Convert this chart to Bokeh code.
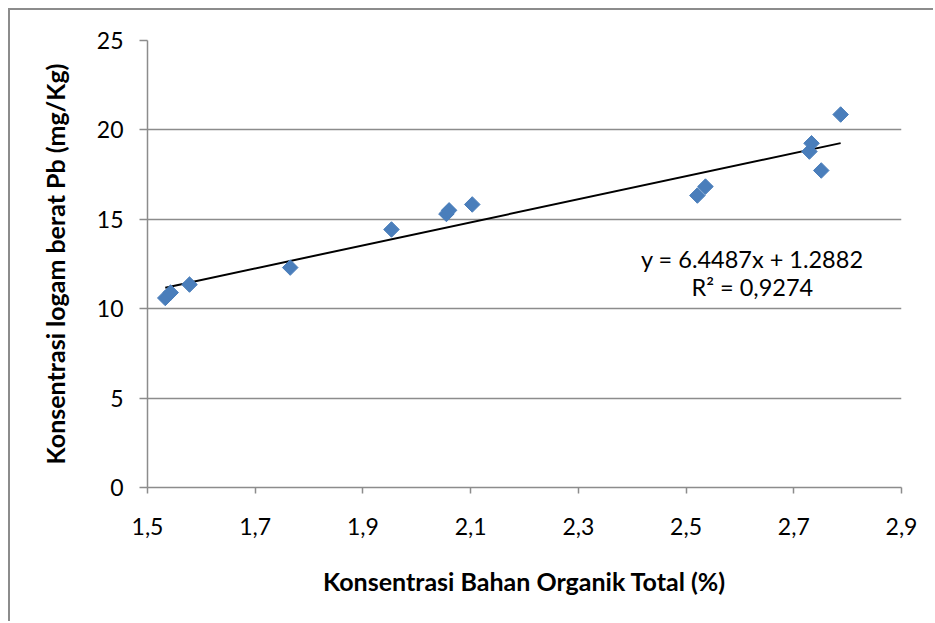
from bokeh.plotting import figure
from bokeh.models import FixedTicker, Range1d, ColumnDataSource, Label
from bokeh.embed import file_html
from bokeh.resources import INLINE
import numpy as np

# Data
bahan_organik = [1.533, 1.543, 1.578, 1.765, 1.953, 2.055, 2.060, 2.103,
                 2.521, 2.536, 2.729, 2.733, 2.751, 2.787]
logam_pb = [10.60, 10.90, 11.35, 12.30, 14.43, 15.30, 15.50, 15.83,
            16.33, 16.83, 18.79, 19.25, 17.73, 20.86]

trend_slope = 6.4487
trend_intercept = 1.2882
r_squared_text = "R\u00b2 = 0,9274"
equation_text = "y = 6.4487x + 1.2882"

x_ticks = [1.5, 1.7, 1.9, 2.1, 2.3, 2.5, 2.7, 2.9]
x_tick_labels = ["1,5", "1,7", "1,9", "2,1", "2,3", "2,5", "2,7", "2,9"]
y_ticks = [0, 5, 10, 15, 20, 25]
y_tick_labels = ["0", "5", "10", "15", "20", "25"]

x_title = "Konsentrasi Bahan Organik Total (%)"
y_title = "Konsentrasi logam berat Pb (mg/Kg)"

FONT = "Lato"
GRAY = "#8c8c8c"
BLUE = "#4a7ebb"

p = figure(width=925, height=613, output_backend="svg", toolbar_location=None,
           x_range=Range1d(1.5, 2.9), y_range=Range1d(0, 25),
           min_border_left=137, min_border_right=34, min_border_top=30,
           min_border_bottom=136,
           styles={"border-left": "2px solid #8c8c8c", "border-top": "2px solid #8c8c8c",
                   "margin-left": "8px", "margin-top": "8px"})

p.outline_line_color = None
p.background_fill_color = "white"
p.border_fill_color = "white"

p.xgrid.grid_line_color = None
p.ygrid.grid_line_color = GRAY
p.ygrid.grid_line_width = 1.5
p.ygrid.ticker = FixedTicker(ticks=y_ticks)

for ax in (p.xaxis[0], p.yaxis[0]):
    ax.axis_line_color = GRAY
    ax.axis_line_width = 1.5
    ax.major_tick_line_color = GRAY
    ax.major_tick_line_width = 1.5
    ax.major_tick_in = 0
    ax.minor_tick_line_color = None
    ax.major_label_text_font = FONT
    ax.major_label_text_font_size = "23px"
    ax.major_label_text_color = "black"
    ax.axis_label_text_font = FONT
    ax.axis_label_text_font_style = "bold"
    ax.axis_label_text_font_size = "25px"
    ax.axis_label_text_color = "black"

p.xaxis.ticker = FixedTicker(ticks=x_ticks)
p.xaxis.major_label_overrides = dict(zip(x_ticks, x_tick_labels))
p.xaxis.major_tick_out = 6
p.xaxis.major_label_standoff = 24
p.xaxis.axis_label = x_title
p.xaxis.axis_label_standoff = 28

p.yaxis.ticker = FixedTicker(ticks=y_ticks)
p.yaxis.major_label_overrides = dict(zip(y_ticks, y_tick_labels))
p.yaxis.major_tick_out = 8
p.yaxis.major_label_standoff = 16
p.yaxis.axis_label = y_title
p.yaxis.axis_label_standoff = 24

# Trend line from the fitted equation over the data's range
xs = np.array([min(bahan_organik), max(bahan_organik)])
p.line(xs, trend_slope * xs + trend_intercept, line_color="black", line_width=2)

src = ColumnDataSource(dict(x=bahan_organik, y=logam_pb))
p.scatter("x", "y", source=src, marker="square", angle=np.pi / 4, size=11,
          fill_color=BLUE, line_color=BLUE)

p.add_layout(Label(x=2.623, y=12.77, text=equation_text, text_font=FONT,
                   text_font_size="23.5px", text_align="center",
                   text_baseline="middle", text_color="black"))
p.add_layout(Label(x=2.623, y=11.22, text=r_squared_text, text_font=FONT,
                   text_font_size="23.5px", text_align="center",
                   text_baseline="middle", text_color="black"))

open("out.html", "w").write(file_html(p, INLINE))
